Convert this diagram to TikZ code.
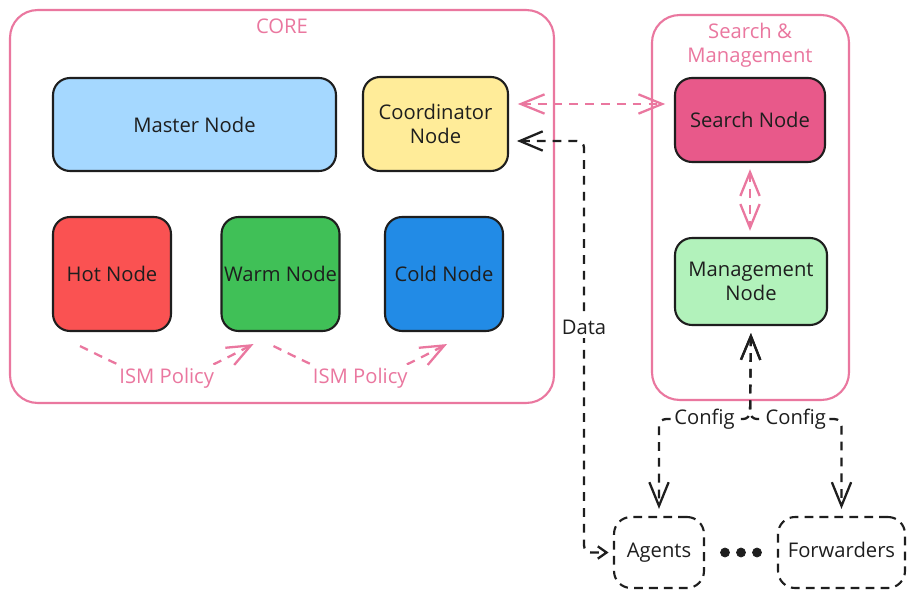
\documentclass[tikz,border=0pt]{standalone}
\usepackage{fontspec}
\setmainfont{Open Sans}
\usepackage{tikz}
\usetikzlibrary{arrows.meta,calc}

\definecolor{ink}{HTML}{1E1E1E}
\definecolor{corepink}{HTML}{EA779F}
\definecolor{masterblue}{HTML}{A5D8FF}
\definecolor{coordyellow}{HTML}{FFEC99}
\definecolor{hotred}{HTML}{FA5252}
\definecolor{warmgreen}{HTML}{40C057}
\definecolor{coldblue}{HTML}{228BE6}
\definecolor{searchpink}{HTML}{E8598A}
\definecolor{mgmtgreen}{HTML}{B2F2BB}

\begin{document}
\begin{tikzpicture}[x=0.02cm, y=-0.02cm,
        >={Straight Barb[length=13.5pt,width=11pt]},
        txt/.style={font=\fontsize{11.5}{13.6}\selectfont, text=ink, align=center},
        nodebox/.style={txt, draw=ink, line width=1.2pt, rounded corners=0.34cm, inner sep=0pt},
        outbox/.style={nodebox, dash pattern=on 5pt off 3.5pt, text height=1.6ex, text depth=0.45ex},
        groupbox/.style={draw=corepink, line width=1.2pt, rounded corners=0.55cm, inner sep=0pt},
        grouplabel/.style={txt, text=corepink},
        pinklink/.style={draw=corepink, line width=1.3pt, dash pattern=on 5pt off 4pt},
        darklink/.style={draw=ink, line width=1.3pt, dash pattern=on 5pt off 4pt},
        tag/.style={txt, fill=white, inner sep=1.5pt},
    ]
        \fill[white] (0,0) rectangle (913,601);

        % groups
        \node[groupbox, minimum width=10.88cm, minimum height=7.86cm] (core) at (282,206.5) {};
        \node[grouplabel] (corelabel) at (282,26) {CORE};
        \node[groupbox, minimum width=3.94cm, minimum height=7.7cm] (searchgroup) at (750.5,207.5) {};
        \node[grouplabel] (searchlabel) at (750,45) {Search \&\\Management};

        % core nodes
        \node[nodebox, fill=masterblue, minimum width=5.66cm, minimum height=1.86cm] (master) at (194.5,124.5) {Master Node};
        \node[nodebox, fill=coordyellow, minimum width=2.9cm, minimum height=1.88cm] (coord) at (435.5,124) {Coordinator\\Node};
        \node[nodebox, fill=hotred, minimum width=2.36cm, minimum height=2.28cm] (hot) at (112,274) {Hot Node};
        \node[nodebox, fill=warmgreen, minimum width=2.36cm, minimum height=2.28cm] (warm) at (280.5,274) {Warm Node};
        \node[nodebox, fill=coldblue, minimum width=2.36cm, minimum height=2.28cm] (cold) at (444,274) {Cold Node};

        % search and management
        \node[nodebox, fill=searchpink, minimum width=3.0cm, minimum height=1.68cm] (search) at (750,120) {Search Node};
        \node[nodebox, fill=mgmtgreen, minimum width=3.04cm, minimum height=1.74cm] (mgmt) at (751,281.5) {Management\\Node};

        % outside
        \node[outbox, minimum width=1.8cm, minimum height=1.42cm] (agents) at (659,552.5) {Agents};
        \node[outbox, minimum width=2.54cm, minimum height=1.42cm] (fwd) at (841.5,552.5) {Forwarders};
        \foreach \dx in {-16,0,16}
            \filldraw[ink] ($(agents.east)!0.5!(fwd.west)+(\dx,0)$) circle (0.09cm);

        % ISM policy
        \coordinate (ism1a) at ($(hot.south)+(-32,14)$);
        \coordinate (ism1b) at ($(warm.south)+(-27,12)$);
        \coordinate (ism2a) at ($(warm.south)+(-7,14)$);
        \coordinate (ism2b) at ($(cold.south)+(3,12)$);
        \draw[pinklink, ->] (ism1a) .. controls ($(ism1a)!0.5!(ism1b)+(0,44)$) .. (ism1b)
            node[tag, text=corepink, pos=0.5] {ISM Policy};
        \draw[pinklink, ->] (ism2a) .. controls ($(ism2a)!0.5!(ism2b)+(0,44)$) .. (ism2b)
            node[tag, text=corepink, pos=0.5] {ISM Policy};

        % pink links
        \draw[pinklink, <->, shorten <=5pt, shorten >=5pt] ([yshift=0.4cm]coord.east) -- ([yshift=0.4cm]coord.east -| search.west);
        \draw[pinklink, <->, shorten <=3.5pt, shorten >=3.5pt] (search.south) -- (search.south |- mgmt.north);

        % data
        \coordinate (databend) at ($(coord.east)+(75,17)$);
        \draw[darklink, rounded corners=4pt, {Straight Barb[length=13pt,width=11pt]}-{Straight Barb[length=5pt,width=7pt]},
            shorten <=4.5pt, shorten >=2.5pt]
            (coord.east |- databend) -- (databend) |- node[tag, pos=0.227] {Data} (agents.west);

        % config
        \coordinate (cfgsplit) at ($(mgmt.south)+(-1,93)$);
        \draw[darklink, rounded corners=4pt, <->, shorten <=4pt, shorten >=4pt]
            (mgmt.south) -- (cfgsplit) -| node[tag, pos=0.25] {Config} (agents.north);
        \draw[darklink, rounded corners=4pt, <->, shorten <=4pt, shorten >=4pt]
            (mgmt.south) -- (cfgsplit) -| node[tag, pos=0.25] {Config} (fwd.north);
\end{tikzpicture}
\end{document}
